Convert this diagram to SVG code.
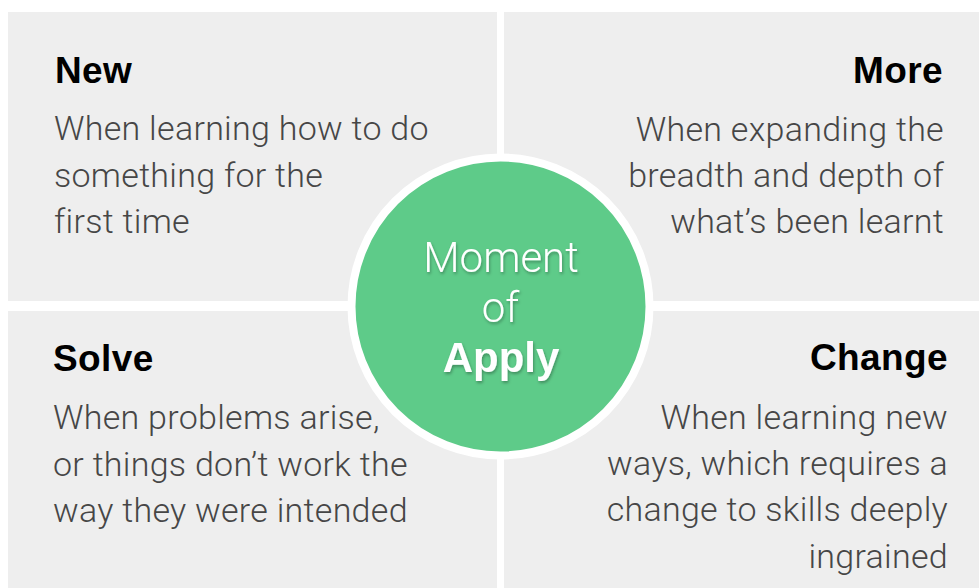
<svg xmlns="http://www.w3.org/2000/svg" width="979" height="588" viewBox="0 0 979 588">
  <style>
    .panel { fill: #eeeeee; }
    .title { font-family: "Liberation Sans", Arial, sans-serif; font-weight: 700; font-size: 37px; letter-spacing: 0.4px; fill: #000000; }
    .body { font-family: Roboto, "Liberation Sans", sans-serif; font-weight: 300; font-size: 34px; letter-spacing: 0.28px; fill: #464646; }
    .hub-light { font-family: Roboto, "Liberation Sans", sans-serif; font-weight: 300; font-size: 42px; fill: #ffffff; }
    .hub-bold { font-family: "Liberation Sans", Arial, sans-serif; font-weight: 700; font-size: 42px; fill: #ffffff; }
  </style>
  <defs>
    <filter id="softShadow" x="-20%" y="-20%" width="140%" height="160%">
      <feDropShadow dx="1" dy="2" stdDeviation="1.5" flood-color="#000000" flood-opacity="0.3"/>
    </filter>
  </defs>

  <rect width="979" height="588" fill="#ffffff"/>

  <!-- quadrant: New -->
  <g id="new">
    <rect class="panel" x="8" y="12" width="489" height="289"/>
    <text class="title" x="55" y="83">New</text>
    <text class="body" x="54" y="140">When learning how to do</text>
    <text class="body" x="54" y="186.5">something for the</text>
    <text class="body" x="54" y="233">first time</text>
  </g>

  <!-- quadrant: More -->
  <g id="more">
    <rect class="panel" x="504" y="12" width="475" height="289"/>
    <text class="title" x="943" y="83" text-anchor="end">More</text>
    <text class="body" x="944" y="141" text-anchor="end">When expanding the</text>
    <text class="body" x="944" y="187" text-anchor="end">breadth and depth of</text>
    <text class="body" x="944" y="233" text-anchor="end">what’s been learnt</text>
  </g>

  <!-- quadrant: Solve -->
  <g id="solve">
    <rect class="panel" x="8" y="311" width="489" height="277"/>
    <text class="title" x="53" y="371">Solve</text>
    <text class="body" x="53" y="429">When problems arise,</text>
    <text class="body" x="53" y="475.5">or things don’t work the</text>
    <text class="body" x="53" y="522">way they were intended</text>
  </g>

  <!-- quadrant: Change -->
  <g id="change">
    <rect class="panel" x="504" y="311" width="475" height="277"/>
    <text class="title" x="948" y="370" text-anchor="end">Change</text>
    <text class="body" x="948" y="428.5" text-anchor="end">When learning new</text>
    <text class="body" x="948" y="474.5" text-anchor="end">ways, which requires a</text>
    <text class="body" x="948" y="521" text-anchor="end">change to skills deeply</text>
    <text class="body" x="948" y="567.5" text-anchor="end">ingrained</text>
  </g>

  <!-- centre hub -->
  <g id="moment-of-apply">
    <circle cx="500.5" cy="306.5" r="149" fill="#5ecb89" stroke="#ffffff" stroke-width="8"/>
    <g filter="url(#softShadow)" text-anchor="middle">
      <text class="hub-light" x="501" y="271.5">Moment</text>
      <text class="hub-light" x="500.5" y="321.5">of</text>
      <text class="hub-bold" x="501" y="372">Apply</text>
    </g>
  </g>

  <g id="connectors"/>
</svg>
